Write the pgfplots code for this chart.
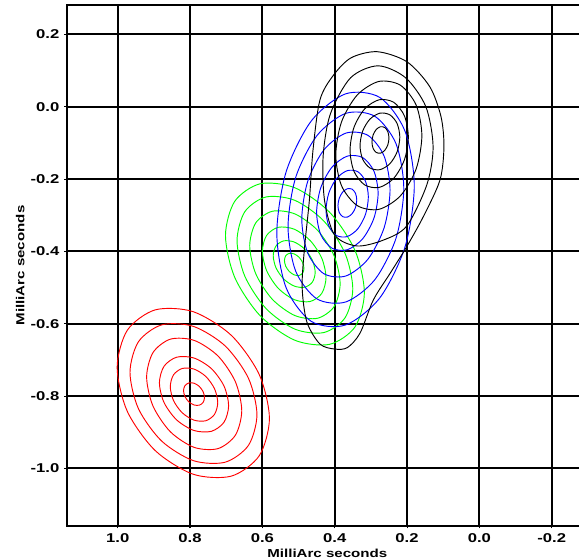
\documentclass[border=0pt]{standalone}
\usepackage{pgfplots}
\pgfplotsset{compat=1.18}
\usepackage{fontspec}
\setmainfont{Liberation Sans}[FakeStretch=1.3]
\begin{document}
\begin{tikzpicture}
\begin{axis}[
  at={(0,0)}, anchor=south west,
  scale only axis, width=390.9pt, height=390.3pt,
  xmin=-0.30, xmax=1.141, ymin=-1.1584, ymax=0.2803,
  x dir=reverse,
  xtick={1.0,0.8,0.6,0.4,0.2,0.0,-0.2},
  xticklabels={1.0,0.8,0.6,0.4,0.2,0.0,-0.2},
  ytick={0.2,0.0,-0.2,-0.4,-0.6,-0.8,-1.0},
  yticklabels={0.2,0.0,-0.2,-0.4,-0.6,-0.8,-1.0},
  grid=major,
  major grid style={black, line width=1.45pt},
  axis line style={black, line width=1.45pt},
  tick style={black, line width=0.8pt},
  tick align=outside, major tick length=2pt,
  tick pos=left,
  ticklabel style={font=\bfseries\fontsize{9.6}{11}\selectfont},
  xlabel={MilliArc seconds}, ylabel={MilliArc seconds},
  label style={font=\bfseries\fontsize{8.7}{10}\selectfont},
  every axis x label/.append style={yshift=2pt},
  every axis y label/.append style={yshift=-2.2pt},
  every axis plot/.append style={line width=0.7pt},
]
% red source
\addplot[red, smooth cycle] coordinates {(1.0015,-.7208) (.9733,-.6179) (.8963,-.5617) (.791,-.5668) (.6857,-.6323) (.6087,-.7404) (.5805,-.8622) (.6087,-.9651) (.6857,-1.0213) (.791,-1.0162) (.8963,-.9507) (.9733,-.8426)};
\addplot[red, smooth cycle] coordinates {(.966,-.7346) (.9425,-.6497) (.8783,-.6032) (.7905,-.6074) (.7027,-.6615) (.6385,-.7508) (.615,-.8514) (.6385,-.9363) (.7027,-.9828) (.7905,-.9786) (.8783,-.9245) (.9425,-.8352)};
\addplot[red, smooth cycle] coordinates {(.92,-.7475) (.9024,-.6798) (.8543,-.6427) (.7885,-.6461) (.7227,-.6892) (.6746,-.7604) (.657,-.8405) (.6746,-.9082) (.7227,-.9453) (.7885,-.9419) (.8543,-.8988) (.9024,-.8276)};
\addplot[red, smooth cycle] coordinates {(.8847,-.7635) (.8719,-.7176) (.8369,-.6925) (.789,-.6948) (.7411,-.724) (.7061,-.7722) (.6933,-.8265) (.7061,-.8724) (.7411,-.8975) (.789,-.8952) (.8369,-.866) (.8719,-.8178)};
\addplot[red, smooth cycle] coordinates {(.8546,-.7738) (.8458,-.7415) (.8218,-.7238) (.789,-.7254) (.7562,-.746) (.7322,-.7799) (.7234,-.8182) (.7322,-.8505) (.7562,-.8682) (.789,-.8666) (.8218,-.846) (.8458,-.8121)};
\addplot[red, smooth cycle] coordinates {(.818,-.785) (.8141,-.7713) (.8035,-.7638) (.789,-.7644) (.7745,-.7732) (.7639,-.7877) (.76,-.804) (.7639,-.8177) (.7745,-.8252) (.789,-.8246) (.8035,-.8158) (.8141,-.8013)};
% green source
\addplot[green, smooth cycle] coordinates {(.702,-.3562) (.6763,-.2614) (.606,-.2131) (.51,-.2242) (.414,-.2919) (.3437,-.3978) (.318,-.5138) (.3437,-.6086) (.414,-.6569) (.51,-.6458) (.606,-.5781) (.6763,-.4722)};
\addplot[green, smooth cycle] coordinates {(.67,-.3705) (.6486,-.2904) (.59,-.2496) (.51,-.259) (.43,-.3161) (.3714,-.4056) (.35,-.5035) (.3714,-.5836) (.43,-.6244) (.51,-.615) (.59,-.5579) (.6486,-.4684)};
\addplot[green, smooth cycle] coordinates {(.635,-.3845) (.6183,-.3213) (.5725,-.2891) (.51,-.2965) (.4475,-.3416) (.4017,-.4122) (.385,-.4895) (.4017,-.5527) (.4475,-.5849) (.51,-.5775) (.5725,-.5324) (.6183,-.4618)};
\addplot[green, smooth cycle] coordinates {(.6,-.3996) (.5882,-.3558) (.556,-.3334) (.512,-.3386) (.468,-.3698) (.4358,-.4188) (.424,-.4724) (.4358,-.5162) (.468,-.5386) (.512,-.5334) (.556,-.5022) (.5882,-.4532)};
\addplot[green, smooth cycle] coordinates {(.57,-.4122) (.5622,-.3849) (.541,-.3709) (.512,-.3741) (.483,-.3936) (.4618,-.4243) (.454,-.4578) (.4618,-.4851) (.483,-.4991) (.512,-.4959) (.541,-.4764) (.5622,-.4457)};
\addplot[green, smooth cycle] coordinates {(.539,-.4251) (.5354,-.4121) (.5255,-.4054) (.512,-.407) (.4985,-.4163) (.4886,-.4309) (.485,-.4469) (.4886,-.4599) (.4985,-.4666) (.512,-.465) (.5255,-.4557) (.5354,-.4411)};
% blue source
\addplot[blue, smooth cycle] coordinates {(.56,-.3492) (.5345,-.1807) (.465,-.0398) (.37,.0355) (.275,.0254) (.2055,-.0679) (.18,-.2188) (.2055,-.3873) (.275,-.5282) (.37,-.6035) (.465,-.5934) (.5345,-.5001)};
\addplot[blue, smooth cycle] coordinates {(.529,-.3322) (.5076,-.1947) (.449,-.0798) (.369,-.0183) (.289,-.0266) (.2304,-.1026) (.209,-.2258) (.2304,-.3633) (.289,-.4782) (.369,-.5397) (.449,-.5314) (.5076,-.4554)};
\addplot[blue, smooth cycle] coordinates {(.491,-.3108) (.4747,-.2066) (.43,-.1196) (.369,-.073) (.308,-.0793) (.2633,-.1369) (.247,-.2302) (.2633,-.3344) (.308,-.4214) (.369,-.468) (.43,-.4617) (.4747,-.4041)};
\addplot[blue, smooth cycle] coordinates {(.45,-.2924) (.4386,-.2242) (.4075,-.1671) (.365,-.1366) (.3225,-.1407) (.2914,-.1785) (.28,-.2396) (.2914,-.3078) (.3225,-.3649) (.365,-.3954) (.4075,-.3913) (.4386,-.3535)};
\addplot[blue, smooth cycle] coordinates {(.424,-.2866) (.4162,-.2385) (.3948,-.1983) (.3655,-.1769) (.3362,-.1797) (.3148,-.2063) (.307,-.2494) (.3148,-.2975) (.3362,-.3377) (.3655,-.3591) (.3948,-.3563) (.4162,-.3297)};
\addplot[blue, smooth cycle] coordinates {(.391,-.274) (.3875,-.2533) (.378,-.236) (.365,-.2268) (.352,-.228) (.3425,-.2395) (.339,-.258) (.3425,-.2787) (.352,-.296) (.365,-.3052) (.378,-.304) (.3875,-.2925)};
% black source
\addplot[black, smooth cycle] coordinates {(.282,.152) (.200,.124) (.137,.055) (.106,-.028) (.098,-.111) (.109,-.203) (.155,-.304) (.201,-.387) (.247,-.461) (.293,-.534) (.330,-.626) (.365,-.666) (.400,-.670) (.441,-.656) (.477,-.595) (.490,-.500) (.484,-.396) (.470,-.258) (.460,-.120) (.441,.018) (.405,.085) (.355,.135)};
\addplot[black, smooth cycle] coordinates {(.280,.113) (.204,.080) (.148,.000) (.128,-.110) (.145,-.215) (.201,-.330) (.266,-.369) (.339,-.385) (.400,-.355) (.428,-.260) (.432,-.137) (.412,-.020) (.356,.080)};
\addplot[black, smooth cycle] coordinates {(.397,-.1338) (.3811,-.0419) (.3375,.0326) (.278,.0698) (.2185,.0595) (.1749,.0046) (.159,-.0802) (.1749,-.1721) (.2185,-.2466) (.278,-.2838) (.3375,-.2735) (.3811,-.2186)};
\addplot[black, smooth cycle] coordinates {(.3576,-.1204) (.3468,-.0574) (.3173,-.0062) (.277,.0192) (.2367,.0121) (.2072,-.0255) (.1964,-.0836) (.2072,-.1466) (.2367,-.1978) (.277,-.2232) (.3173,-.2161) (.3468,-.1785)};
\addplot[black, smooth cycle] coordinates {(.33,-.1079) (.3226,-.0672) (.3025,-.0343) (.275,-.0179) (.2475,-.0225) (.2274,-.0467) (.22,-.0841) (.2274,-.1248) (.2475,-.1577) (.275,-.1741) (.3025,-.1695) (.3226,-.1453)};
\addplot[black, smooth cycle] coordinates {(.297,-.0976) (.2939,-.0785) (.2853,-.0631) (.2735,-.0554) (.2617,-.0576) (.2531,-.0689) (.25,-.0864) (.2531,-.1055) (.2617,-.1209) (.2735,-.1286) (.2853,-.1264) (.2939,-.1151)};
\end{axis}
\pgfresetboundingbox
\path[use as bounding box] (-50.03pt,-24.23pt) rectangle (384.23pt,394.28pt);
\end{tikzpicture}
\end{document}
